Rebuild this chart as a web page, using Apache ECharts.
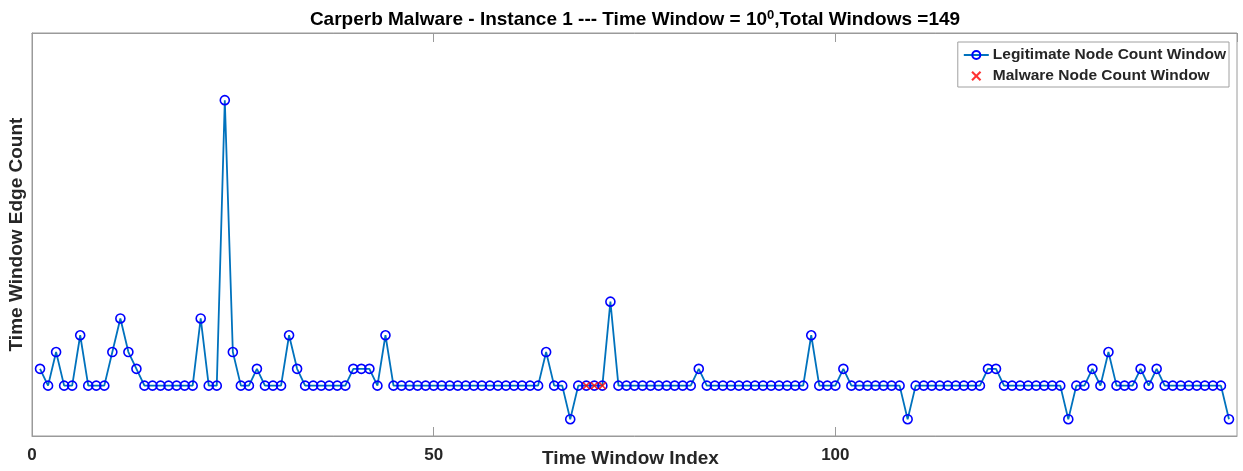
<!DOCTYPE html>
<html>
<head>
<meta charset="utf-8">
<script src="https://cdn.jsdelivr.net/npm/echarts@6/dist/echarts.min.js"></script>
<style>
html,body{margin:0;padding:0;background:#fff;}
#chart{width:1243px;height:471px;}
</style>
</head>
<body>
<div id="chart"></div>
<script>
// Time window indices 1..149
const windowIndex = Array.from({length: 149}, (_, k) => k + 1);
// Legitimate edge counts per window
const legitValues = [
  4,3,5,3,3,6,3,3,3,5, 7,5,4,3,3,3,3,3,3,3,
  7,3,3,20,5,3,3,4,3,3, 3,6,4,3,3,3,3,3,3,4,
  4,4,3,6,3,3,3,3,3,3, 3,3,3,3,3,3,3,3,3,3,
  3,3,3,5,3,3,1,3,3,3, 3,8,3,3,3,3,3,3,3,3,
  3,3,4,3,3,3,3,3,3,3, 3,3,3,3,3,3,6,3,3,3,
  4,3,3,3,3,3,3,3,1,3, 3,3,3,3,3,3,3,3,4,4,
  3,3,3,3,3,3,3,3,1,3, 3,4,3,5,3,3,3,4,3,4,
  3,3,3,3,3,3,3,3,1
];
// Malware windows
const malwareIndex = [69, 70, 71];
const malwareValues = [3, 3, 3];
const xTicks = [0, 50, 100];

const FONT = '"Liberation Sans", Arial, Helvetica, sans-serif';
const TXT = '#262626';
const AX = '#9a9a9a';

const chart = echarts.init(document.getElementById('chart'), null, {renderer: 'canvas'});
chart.setOption({
  backgroundColor: '#ffffff',
  animation: false,
  title: {
    text: '{t|Carperb Malware - Instance 1 --- Time Window = 10}{s|0}{t|,Total Windows =149}',
    left: 630,
    textAlign: 'center',
    top: 4,
    textStyle: {
      rich: {
        t: {fontFamily: FONT, fontWeight: 'bold', fontSize: 19, color: '#000', lineHeight: 22},
        s: {fontFamily: FONT, fontWeight: 'bold', fontSize: 13, color: '#000', verticalAlign: 'top', lineHeight: 22, padding: [0, 0, 10, 0]}
      }
    }
  },
  legend: {
    orient: 'vertical',
    right: 14,
    top: 42,
    padding: [5, 3, 3, 5],
    itemGap: 5,
    itemWidth: 25,
    itemHeight: 10,
    borderColor: '#a0a0a0',
    borderWidth: 1,
    backgroundColor: '#fff',
    textStyle: {fontFamily: FONT, fontWeight: 'bold', fontSize: 15.5, color: TXT, padding: [0, 0, 0, -1]},
    data: ['Legitimate Node Count Window', 'Malware Node Count Window']
  },
  grid: {
    left: 32, right: 6, top: 33, bottom: 35,
    outerBoundsMode: 'none',
    containLabel: false,
    show: true, borderColor: AX, borderWidth: 1, backgroundColor: 'transparent'
  },
  xAxis: [{
    type: 'value',
    min: 0, max: 150, interval: 50,
    position: 'bottom',
    name: 'Time Window Index',
    nameLocation: 'middle',
    nameGap: 13,
    nameMoveOverlap: false,
    nameTextStyle: {fontFamily: FONT, fontWeight: 'bold', fontSize: 19, color: TXT, padding: [0, 8, 0, 0]},
    axisLine: {show: true, lineStyle: {color: AX, width: 1}},
    axisTick: {show: true, inside: true, length: 9, lineStyle: {color: AX, width: 1}},
    axisLabel: {
      fontFamily: FONT, fontWeight: 'bold', fontSize: 17, color: TXT, margin: 11,
      showMaxLabel: false,
      formatter: v => (xTicks.indexOf(v) >= 0 ? String(v) : '')
    },
    splitLine: {show: false}
  }, {
    type: 'value',
    min: 0, max: 150, interval: 50,
    position: 'top',
    axisLine: {show: true, lineStyle: {color: AX, width: 1}},
    axisTick: {show: true, inside: true, length: 9, lineStyle: {color: AX, width: 1}},
    axisLabel: {show: false},
    splitLine: {show: false}
  }],
  yAxis: {
    type: 'value',
    min: 0, max: 24,
    name: 'Time Window Edge Count',
    nameLocation: 'middle',
    nameGap: 6,
    nameMoveOverlap: false,
    nameTextStyle: {fontFamily: FONT, fontWeight: 'bold', fontSize: 19, color: TXT},
    axisLine: {show: true, lineStyle: {color: AX, width: 1}},
    axisTick: {show: false},
    axisLabel: {show: false},
    splitLine: {show: false}
  },
  series: [{
    name: 'Legitimate Node Count Window',
    type: 'line',
    data: windowIndex.map((x, i) => [x, legitValues[i]]),
    color: '#0072BD',
    lineStyle: {color: '#0072BD', width: 1.8},
    symbol: 'circle',
    symbolSize: 9,
    showAllSymbol: true,
    itemStyle: {color: 'rgba(255,255,255,0)', borderColor: '#0000ff', borderWidth: 1.6},
    z: 2
  }, {
    name: 'Malware Node Count Window',
    type: 'scatter',
    data: malwareIndex.map((x, i) => [x, malwareValues[i]]),
    symbol: 'path://M1.5,0 L5,3.5 L8.5,0 L10,1.5 L6.5,5 L10,8.5 L8.5,10 L5,6.5 L1.5,10 L0,8.5 L3.5,5 L0,1.5 Z',
    symbolSize: 8,
    itemStyle: {color: '#ff0000'},
    z: 3
  }]
});
</script>
</body>
</html>
